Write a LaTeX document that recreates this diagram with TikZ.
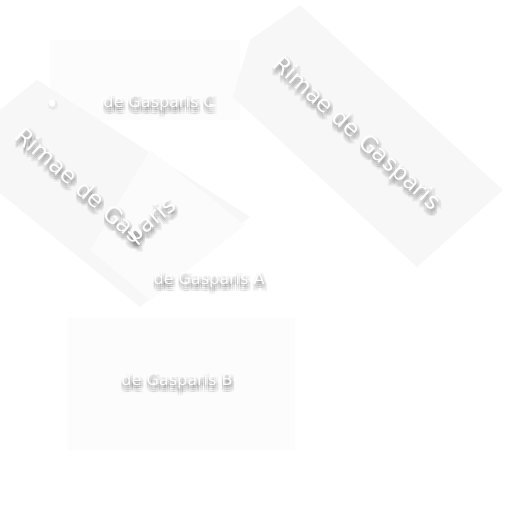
\documentclass[tikz,border=0pt]{standalone}
\usepackage{fontspec}
\setmainfont{DejaVu Sans}
\usetikzlibrary{decorations.text}
\newcommand{\smallf}{\fontsize{16}{18}\selectfont}
\newcommand{\rimf}{\fontsize{23}{25}\selectfont}
\tikzset{
  lbl/.style={font=\smallf, text=white, inner sep=0pt, anchor=center},
  shd/.style={font=\smallf, text=black, inner sep=0pt, anchor=center},
  bandfill/.style={fill=black!3, draw=none},
  faintfill/.style={fill=black!1.2, draw=none},
}
\begin{document}
\begin{tikzpicture}[x=1pt,y=-1pt]
\useasboundingbox[fill=white] (0,0) rectangle (512,512);
% faint background bands
\fill[faintfill] (67,318) rectangle (295,450);
\fill[faintfill] (100,318) rectangle (295,350);
\fill[faintfill] (50,40) rectangle (240,120);
\fill[bandfill] (37,80) -- (250,217) -- (140,307) -- (0,193) -- (0,110) -- cycle;
\fill[black!1.5] (150,150) -- (245,225) -- (150,300) -- (90,250) -- cycle;
\fill[bandfill] (300,5) -- (503,190) -- (417,267) -- (233,97) -- (250,40) -- cycle;
% small dot
\fill[black, opacity=0.05] (53,105) circle (5);
\fill[white] (52,103) circle (3.5);
% shadows of labels
\begin{scope}[opacity=0.05]
\foreach \dx/\dy [count=\i] in {-1/1,1/1,3/1,-1/3,1/3,3/3,-1/5,1/5,3/5,-1/7,1/7,3/7} {
  \node[shd] (sc\i) at (159+\dx,103+\dy) {de Gasparis C};
  \node[shd] (sa\i) at (209+\dx,280+\dy) {de Gasparis A};
  \node[shd] (sb\i) at (177+\dx,381+\dy) {de Gasparis B};
  \node[shd, font=\rimf, rotate=-42] (sr\i) at (356+\dx,134+\dy) {Rimae de Gasparis};
  \path[decorate, decoration={text along path, text color=black,
      text={|\rimf|Rimae de Gaspar{i}s}}]
      (14+\dx,138+\dy) -- (134+\dx,244+\dy) -- (200+\dx,188+\dy);
}
\end{scope}
% labels
\node[lbl] (c) at (159,103) {de Gasparis C};
\node[lbl] (a) at (209,280) {de Gasparis A};
\node[lbl] (b) at (177,381) {de Gasparis B};
\node[lbl, font=\rimf, rotate=-42] (r) at (356,134) {Rimae de Gasparis};
\path[decorate, decoration={text along path, text color=white,
    text={|\rimf|Rimae de Gaspar{i}s}}]
    (14,138) -- (134,244) -- (200,188);
\end{tikzpicture}
\end{document}
